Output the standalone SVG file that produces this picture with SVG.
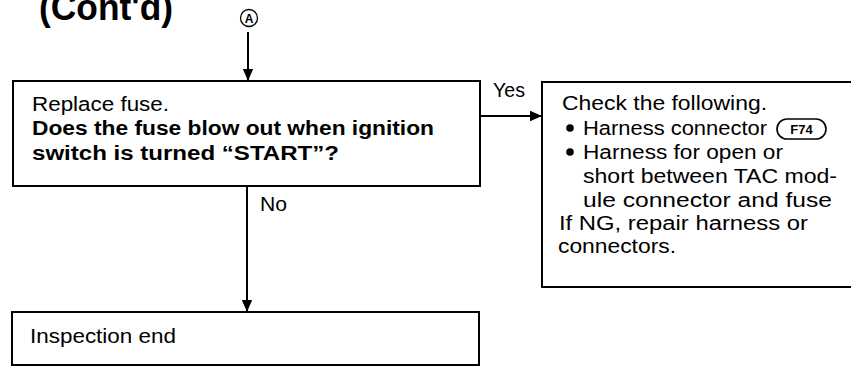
<svg xmlns="http://www.w3.org/2000/svg" width="851" height="366" viewBox="0 0 851 366">
<style>
.box{fill:#fff;stroke:#000;stroke-width:2}
.t{font-family:"Liberation Sans",Arial,sans-serif;font-size:20px;fill:#000}
.b{font-weight:bold}
.ln{stroke:#000;stroke-width:2;fill:none}
</style>
<defs>
<marker id="ah" markerWidth="12" markerHeight="12" refX="14" refY="6" orient="auto" markerUnits="userSpaceOnUse" viewBox="0 0 14 12">
<path d="M0,0 L14,6 L0,12 Z" fill="#000"/>
</marker>
</defs>
<rect width="851" height="366" fill="#fff"/>
<text x="39" y="20" class="t b" style="font-size:36px" textLength="134" lengthAdjust="spacingAndGlyphs">(Cont'd)</text>
<g id="nodeA">
<circle cx="249" cy="18" r="8.5" fill="#fff" stroke="#000" stroke-width="1.3"/>
<text x="249" y="22.5" class="t" style="font-size:12px;font-weight:bold" text-anchor="middle">A</text>
</g>
<g id="connectors">
<line class="ln" x1="248" y1="32" x2="248" y2="81" marker-end="url(#ah)"/>
<line class="ln" x1="480" y1="116" x2="542" y2="116" marker-end="url(#ah)"/>
<line class="ln" x1="247" y1="186" x2="247" y2="312" marker-end="url(#ah)"/>
<text x="493" y="97" class="t" textLength="32" lengthAdjust="spacingAndGlyphs">Yes</text>
<text x="260" y="211" class="t" textLength="27" lengthAdjust="spacingAndGlyphs">No</text>
</g>
<g id="node1">
<rect class="box" x="13" y="81" width="467" height="105"/>
<text x="32" y="111" class="t" textLength="137" lengthAdjust="spacingAndGlyphs">Replace fuse.</text>
<text x="32" y="135" class="t b" textLength="402" lengthAdjust="spacingAndGlyphs">Does the fuse blow out when ignition</text>
<text x="32" y="160" class="t b" textLength="307" lengthAdjust="spacingAndGlyphs">switch is turned “START”?</text>
</g>
<g id="node2">
<rect class="box" x="542" y="82" width="320" height="205"/>
<text x="562" y="110" class="t" textLength="205" lengthAdjust="spacingAndGlyphs">Check the following.</text>
<circle cx="570" cy="128" r="3.8" fill="#000"/>
<text x="583" y="135" class="t" textLength="184" lengthAdjust="spacingAndGlyphs">Harness connector</text>
<rect x="777" y="119" width="49" height="20" rx="10" fill="#fff" stroke="#000" stroke-width="1.6"/>
<text x="801.5" y="134" class="t" style="font-size:13px;font-weight:bold" text-anchor="middle">F74</text>
<circle cx="570" cy="152" r="3.8" fill="#000"/>
<text x="583" y="159" class="t" textLength="200" lengthAdjust="spacingAndGlyphs">Harness for open or</text>
<text x="583" y="183" class="t" textLength="254" lengthAdjust="spacingAndGlyphs">short between TAC mod-</text>
<text x="583" y="207" class="t" textLength="249" lengthAdjust="spacingAndGlyphs">ule connector and fuse</text>
<text x="559" y="230" class="t" textLength="249" lengthAdjust="spacingAndGlyphs">If NG, repair harness or</text>
<text x="558" y="253" class="t" textLength="118" lengthAdjust="spacingAndGlyphs">connectors.</text>
</g>
<g id="node3">
<rect class="box" x="12" y="312" width="467" height="53"/>
<text x="30" y="343" class="t" textLength="146" lengthAdjust="spacingAndGlyphs">Inspection end</text>
</g>
</svg>
